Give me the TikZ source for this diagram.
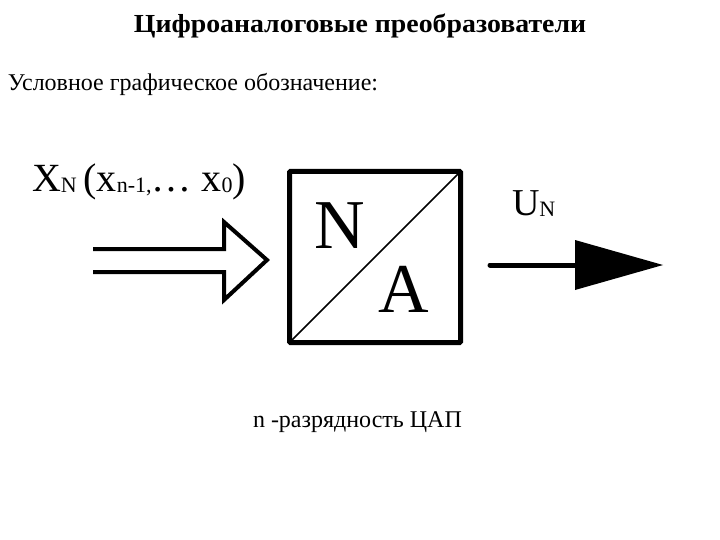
\documentclass[tikz,border=0pt]{standalone}
\usepackage{fontspec}
\setmainfont{Liberation Serif}
\newfontfamily\widefont[FakeStretch=1.07]{Liberation Serif}
\newcommand\lowsub[1]{\raisebox{-1pt}{\fontsize{22}{22}\selectfont #1}}
\begin{document}
\begin{tikzpicture}[x=1pt,y=-1pt,
  txt/.style={inner sep=0pt,outer sep=0pt},
  thick4/.style={line width=4pt},
  boxline/.style={line width=5pt},
]
\useasboundingbox (0,0) rectangle (720,540);
\node[txt,font=\widefont\bfseries\fontsize{26}{26}\selectfont,anchor=base] (title) at (360,33) {Цифроаналоговые преобразователи};
\node[txt,font=\fontsize{24}{24}\selectfont,anchor=base west] (sub) at (8,91) {Условное графическое обозначение:};
\node[txt,font=\fontsize{40}{40}\selectfont,anchor=base west] (xin) at (32,192) {X\lowsub{N}\,(x\lowsub{n-1,}\ldots\ x\lowsub{0})};
% input double arrow
\coordinate (l1) at (93,249);
\coordinate (l2) at (93,272);
\coordinate (h1) at (224,249);
\coordinate (h2) at (224,272);
\coordinate (ht) at (224,222);
\coordinate (hb) at (224,300);
\coordinate (tip) at (267,260);
\draw[thick4,line join=miter] (l1) -- (h1) -- (ht) -- (tip) -- (hb) -- (h2) -- (l2);
% box
\node[draw,boxline,outer sep=0pt,minimum width=171pt,minimum height=171pt,rounded corners=1pt] (box) at (375,257) {};
\draw[line width=1.5pt] (box.south west) -- (box.north east);
\node[txt,font=\fontsize{70}{70}\selectfont,anchor=base] (N) at (340,248) {N};
\node[txt,font=\fontsize{70}{70}\selectfont,anchor=base] (A) at (404,312) {A};
% output
\node[txt,font=\fontsize{38}{38}\selectfont,anchor=base west] (un) at (512,215) {U\lowsub{N}};
\coordinate (o1) at (490,265);
\coordinate (ob) at (575,265);
\draw[line width=5pt,line cap=round] (o1) -- (ob);
\fill (575,240) -- (663,265) -- (575,290) -- cycle;
\node[txt,font=\fontsize{24}{24}\selectfont,anchor=base west] (cap) at (253,427) {n -разрядность ЦАП};
\end{tikzpicture}
\end{document}
